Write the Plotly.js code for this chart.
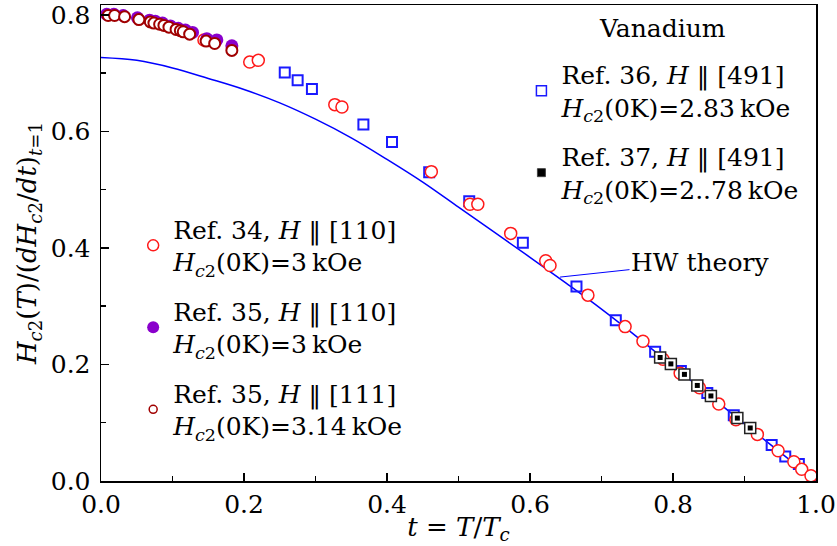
<!DOCTYPE html>
<html>
<head>
<meta charset="utf-8">
<script src="https://cdn.plot.ly/plotly-3.0.1.min.js"></script>
<style>html,body{margin:0;padding:0;background:#fff;}#chart{width:837px;height:546px;}</style>
</head>
<body>
<div id="chart"></div>
<script>
// HW theory curve
var hwT = [0,0.05,0.1,0.15,0.2,0.25,0.3,0.35,0.4,0.45,0.5,0.55,0.6,0.65,0.7,0.75,0.8,0.85,0.9,0.95,1.0];
var hwH = [0.727,0.722,0.709,0.691,0.672,0.649,0.621,0.589,0.552,0.513,0.470,0.427,0.384,0.340,0.295,0.247,0.197,0.148,0.098,0.049,0.0];

// Ref. 34, H || [110]
var ref34T = [0.144,0.208,0.220,0.327,0.337,0.462,0.516,0.527,0.573,0.622,0.628,0.681,0.733,0.758,0.786,0.810,0.837,0.864,0.888,0.918,0.947,0.969,0.980,0.993];
var ref34H = [0.757,0.719,0.722,0.646,0.642,0.531,0.475,0.475,0.425,0.378,0.370,0.319,0.265,0.240,0.209,0.185,0.160,0.132,0.105,0.080,0.052,0.033,0.020,0.009];

// Ref. 35, H || [110]
var ref35aT = [0.008,0.018,0.031,0.051,0.068,0.076,0.086,0.097,0.108,0.118,0.128,0.148,0.162,0.183];
var ref35aH = [0.801,0.801,0.799,0.795,0.791,0.789,0.786,0.781,0.777,0.774,0.770,0.759,0.757,0.747];

// Ref. 35, H || [111]
var ref35bT = [0.010,0.019,0.033,0.053,0.069,0.074,0.082,0.088,0.095,0.105,0.111,0.115,0.124,0.147,0.159,0.183];
var ref35bH = [0.799,0.799,0.797,0.792,0.788,0.786,0.784,0.782,0.779,0.775,0.773,0.771,0.767,0.755,0.751,0.739];

// Ref. 36, H || [491]
var ref36T = [0.257,0.275,0.295,0.367,0.407,0.459,0.515,0.590,0.665,0.720,0.775,0.811,0.848,0.885,0.938,0.957,0.976,0.996];
var ref36H = [0.701,0.688,0.673,0.612,0.582,0.530,0.480,0.409,0.334,0.276,0.222,0.189,0.151,0.113,0.062,0.042,0.029,0.007];

// Ref. 37, H || [491]
var ref37T = [0.782,0.797,0.816,0.834,0.853,0.890,0.908];
var ref37H = [0.212,0.201,0.183,0.164,0.146,0.108,0.091];

var hc2 = '<i>H</i><sub><i>c</i>2</sub>(0K)=';
var labels = {
  ref34: 'Ref. 34, <i>H</i> \u2016 [110]<br>' + hc2 + '3\u2009kOe',
  ref35a: 'Ref. 35, <i>H</i> \u2016 [110]<br>' + hc2 + '3\u2009kOe',
  ref35b: 'Ref. 35, <i>H</i> \u2016 [111]<br>' + hc2 + '3.14\u2009kOe',
  ref36: 'Ref. 36, <i>H</i> \u2016 [491]<br>' + hc2 + '2.83\u2009kOe',
  ref37: 'Ref. 37, <i>H</i> \u2016 [491]<br>' + hc2 + '2..78\u2009kOe'
};

var FONT = 'DejaVu Serif, serif';
var FS = 25;
var RED = '#ff1a1a', BLUE = '#1a1aff', DARKRED = '#a00000', PURPLE = '#8a00cc';

var traces = [
  {x: hwT, y: hwH, mode: 'lines', line: {color: '#0000ff', width: 1.5, shape: 'spline', smoothing: 1}, showlegend: false, hoverinfo: 'skip'},
  {x: ref36T, y: ref36H, mode: 'markers', showlegend: false,
   marker: {symbol: 'square', size: 10, color: 'rgba(255,255,255,0)', line: {color: BLUE, width: 2}}},
  {x: ref34T, y: ref34H, mode: 'markers', showlegend: false,
   marker: {symbol: 'circle', size: 12, color: 'rgba(255,255,255,1)', line: {color: RED, width: 1.5}}},
  {x: ref35aT, y: ref35aH, mode: 'markers', showlegend: false,
   marker: {symbol: 'circle', size: 13, color: PURPLE, line: {width: 0}}},
  {x: ref35bT, y: ref35bH, mode: 'markers', showlegend: false,
   marker: {symbol: 'circle', size: 11, color: '#ffffff', line: {color: DARKRED, width: 2}}},
  {x: ref37T, y: ref37H, mode: 'markers', showlegend: false,
   marker: {symbol: 'square', size: 11, color: '#ffffff', line: {color: '#222222', width: 1.5}}},
  {x: ref37T, y: ref37H, mode: 'markers', showlegend: false,
   marker: {symbol: 'square', size: 5, color: '#000000', line: {width: 0}}},
  // legend entries (no data drawn)
  {x: [null], y: [null], mode: 'markers', name: labels.ref34, legend: 'legend', legendgroup: 'a',
   marker: {symbol: 'circle', size: 11, color: '#fff', line: {color: RED, width: 1.5}}},
  {x: [null], y: [null], mode: 'markers', name: labels.ref35a, legend: 'legend', legendgroup: 'b',
   marker: {symbol: 'circle', size: 12, color: PURPLE, line: {width: 0}}},
  {x: [null], y: [null], mode: 'markers', name: labels.ref35b, legend: 'legend', legendgroup: 'c',
   marker: {symbol: 'circle', size: 8, color: '#fff', line: {color: DARKRED, width: 1.5}}},
  {x: [null], y: [null], mode: 'markers', name: labels.ref36, legend: 'legend2', legendgroup: 'd',
   marker: {symbol: 'square', size: 10, color: '#fff', line: {color: BLUE, width: 1.5}}},
  {x: [null], y: [null], mode: 'markers', name: labels.ref37, legend: 'legend2', legendgroup: 'e',
   marker: {symbol: 'square', size: 8, color: '#000', line: {color: '#444', width: 1}}}
];

var layout = {
  width: 837, height: 546,
  margin: {l: 101, r: 21, t: 5, b: 65},
  paper_bgcolor: '#fff', plot_bgcolor: '#fff',
  font: {family: FONT, size: FS, color: '#000'},
  xaxis: {
    range: [0, 1], dtick: 0.2, tickformat: '.1f',
    ticks: 'inside', ticklen: 8, tickwidth: 1.5, tickcolor: '#000',
    minor: {dtick: 0.1, ticks: 'inside', ticklen: 5, tickwidth: 1.5, tickcolor: '#000'},
    showline: true, linecolor: '#000', linewidth: 1.5, mirror: true,
    showgrid: false, zeroline: false,
    tickfont: {family: FONT, size: FS},
    title: {text: '<i>t</i> = <i>T</i>/<i>T</i><sub><i>c</i></sub>', font: {family: FONT, size: 26}, standoff: 0},
    automargin: false
  },
  yaxis: {
    range: [0, 0.817], dtick: 0.2, tickformat: '.1f',
    ticks: 'inside', ticklen: 8, tickwidth: 1.5, tickcolor: '#000',
    minor: {dtick: 0.1, ticks: 'inside', ticklen: 5, tickwidth: 1.5, tickcolor: '#000'},
    showline: true, linecolor: '#000', linewidth: 1.5, mirror: true,
    showgrid: false, zeroline: false,
    tickfont: {family: FONT, size: FS}, ticklabelstandoff: 4,
    title: {text: '<i>H</i><sub><i>c</i>2</sub>(<i>T</i>)/(<i>dH</i><sub><i>c</i>2</sub>/<i>dt</i>)<sub><i>t</i>=1</sub>', font: {family: FONT, size: 26}, standoff: 6},
    automargin: false
  },
  legend: {
    x: 0.045, y: 0.577, xanchor: 'left', yanchor: 'top',
    bgcolor: 'rgba(0,0,0,0)', borderwidth: 0,
    font: {family: FONT, size: FS, color: '#000'},
    tracegroupgap: 14, valign: 'middle'
  },
  legend2: {
    x: 0.588, y: 0.902, xanchor: 'left', yanchor: 'top',
    bgcolor: 'rgba(0,0,0,0)', borderwidth: 0,
    font: {family: FONT, size: FS, color: '#000'},
    tracegroupgap: 14, valign: 'middle'
  },
  annotations: [{
    x: 0.642, y: 0.350, xref: 'x', yref: 'y',
    text: 'HW theory', showarrow: true, arrowhead: 0, arrowwidth: 1, arrowcolor: '#0000ff',
    ax: 140, ay: -15, standoff: 0,
    font: {family: FONT, size: FS, color: '#000'}
  }, {
    x: 0.785, y: 0.9496, xref: 'paper', yref: 'paper', xanchor: 'center', yanchor: 'middle',
    text: 'Vanadium', showarrow: false,
    font: {family: FONT, size: FS, color: '#000'}
  }],
  showlegend: true
};

Plotly.newPlot('chart', traces, layout, {staticPlot: true, displayModeBar: false});
</script>
</body>
</html>
